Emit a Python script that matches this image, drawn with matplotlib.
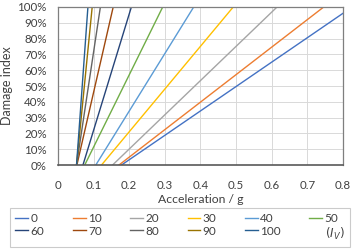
import matplotlib
matplotlib.use("Agg")
import matplotlib.pyplot as plt
from matplotlib.lines import Line2D
from matplotlib.ticker import PercentFormatter

# I_V levels and the acceleration (g) where each line hits 0 % and 100 % damage
levels = [0, 10, 20, 30, 40, 50, 60, 70, 80, 90, 100]
acc_start = [0.178, 0.171, 0.153, 0.122, 0.106, 0.075, 0.070, 0.053, 0.052, 0.052, 0.052]
acc_end = [0.826, 0.746, 0.615, 0.492, 0.381, 0.294, 0.206, 0.155, 0.119, 0.096, 0.084]
damage = [0.0, 1.0]

colors = ["#4472C4", "#ED7D31", "#A5A5A5", "#FFC000", "#5B9BD5", "#70AD47",
          "#264478", "#9E480E", "#636363", "#997300", "#255E91"]

plt.rcParams['font.family'] = ['Lato', 'DejaVu Sans']

fig = plt.figure(figsize=(3.58, 2.49), dpi=100)
ax = fig.add_axes([0.162, 0.337, 0.796, 0.635])

handles = []
for lv, a0, a1, c in zip(levels, acc_start, acc_end, colors):
    h, = ax.plot([a0, a1], damage, color=c, lw=1.0, label=str(lv))
    handles.append(h)

ax.set_xlim(0, 0.8)
ax.set_ylim(0, 1.0)
ax.set_xticks([i / 10 for i in range(9)])
ax.set_xticklabels(["0"] + [f"{i / 10:.1f}" for i in range(1, 9)])
ax.set_yticks([i / 10 for i in range(11)])
ax.yaxis.set_major_formatter(PercentFormatter(1.0, decimals=0))
ax.tick_params(length=0, labelsize=8.3, colors="#404040")
ax.tick_params(axis="x", pad=11)
ax.tick_params(axis="y", pad=8)
ax.grid(True, color="#D9D9D9", lw=0.7)
ax.set_axisbelow(True)
for s in ax.spines.values():
    s.set_color("#7F7F7F")
    s.set_linewidth(0.9)
ax.spines["bottom"].set_color("#595959")
ax.spines["bottom"].set_linewidth(1.2)

ax.set_xlabel("Acceleration / g", fontsize=8.8, color="#404040", labelpad=2)
ax.set_ylabel("Damage index", fontsize=9, color="#404040", labelpad=3)

# legend: row-major order across 6 columns, last slot is the (I_V) note
blank = Line2D([], [], color="none")
items = handles + [blank]
labels = [str(lv) for lv in levels] + [r"$(I_V)$"]
order = []
for col in range(6):
    order += [col, col + 6]
leg = fig.legend([items[i] for i in order], [labels[i] for i in order],
                 ncol=6, loc="lower center", bbox_to_anchor=(0.502, 0.008),
                 fontsize=8.5, frameon=True, fancybox=False,
                 handlelength=1.1, handletextpad=0.2, columnspacing=2.4,
                 labelspacing=0.1, borderpad=0.45, borderaxespad=0)
leg.get_frame().set_edgecolor("#BFBFBF")
leg.get_frame().set_linewidth(0.8)
for t in leg.get_texts():
    t.set_color("#404040")

fig.savefig("out.png", dpi=100)
